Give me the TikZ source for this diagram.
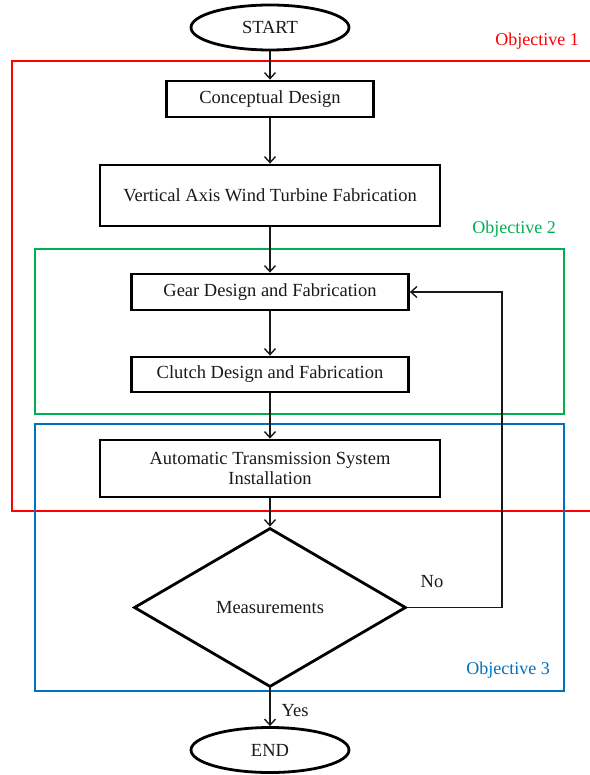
\documentclass[tikz,border=0pt]{standalone}
\usepackage{fontspec}
\setmainfont{Liberation Serif}
\usetikzlibrary{shapes.geometric,arrows.meta}
\definecolor{objred}{RGB}{255,0,0}
\definecolor{objgreen}{RGB}{0,176,80}
\definecolor{objblue}{RGB}{0,112,192}
\definecolor{ink}{RGB}{25,25,25}
\begin{document}
\begin{tikzpicture}[x=1pt,y=-1pt,
  txt/.style={font=\fontsize{18.5}{21.5}\selectfont, text=ink},
  procbox/.style={txt, draw=black, line width=2.8pt, inner sep=0pt, align=center},
  termnode/.style={txt, draw=black, ellipse, line width=2.8pt, inner sep=0pt, minimum width=158pt, minimum height=45pt},
  decnode/.style={txt, draw=black, diamond, line width=2.8pt, inner sep=0pt, minimum width=272pt, minimum height=159pt},
  conn/.style={draw=ink, line width=1.4pt, -{Straight Barb[length=6pt,width=11pt,line width=1.4pt]}},
  objframe/.style={line width=2.6pt},
  objlabel/.style={font=\fontsize{18}{21}\selectfont}]
\useasboundingbox (0,0) rectangle (589,775);

% objective frames
\draw[objframe, draw=objred] (12,61) rectangle (620,511);
\draw[objframe, draw=objgreen] (35,249) rectangle (564,414);
\draw[objframe, draw=objblue] (35,424) rectangle (564,691);
\node[objlabel, text=objred] (o1) at (537,41) {Objective 1};
\node[objlabel, text=objgreen] (o2) at (514,229) {Objective 2};
\node[objlabel, text=objblue] (o3) at (508,670) {Objective 3};

% nodes
\node[termnode] (start) at (270,27.5) {START};
\node[procbox, minimum width=207pt, minimum height=36pt] (concept) at (270,99) {Conceptual Design};
\node[procbox, minimum width=340pt, minimum height=61pt] (vawt) at (270,195.5) {Vertical Axis Wind Turbine Fabrication};
\node[procbox, minimum width=277pt, minimum height=36pt] (gear) at (270,292) {Gear Design and Fabrication};
\node[procbox, minimum width=277pt, minimum height=35pt] (clutch) at (270,374.5) {Clutch Design and Fabrication};
\node[procbox, minimum width=340pt, minimum height=57pt] (auto) at (270,468.5) {Automatic Transmission System\\[-1pt]Installation};
\node[decnode] (meas) at (270,607.5) {Measurements};
\node[termnode] (end) at (270,750) {END};
\coordinate (loopc) at (502,607.5);
\node[txt] (nolab) at (432,582) {No};
\node[txt] (yeslab) at (295,711) {Yes};

% connectors
\draw[conn] (start) -- (concept);
\draw[conn] (concept) -- (vawt);
\draw[conn] (vawt) -- (gear);
\draw[conn] (gear) -- (clutch);
\draw[conn] (clutch) -- (auto);
\draw[conn] (auto) -- (meas);
\draw[conn] (meas) -- (end);
\draw[conn] (meas.east) -- (loopc) |- (gear.east);
\end{tikzpicture}
\end{document}
